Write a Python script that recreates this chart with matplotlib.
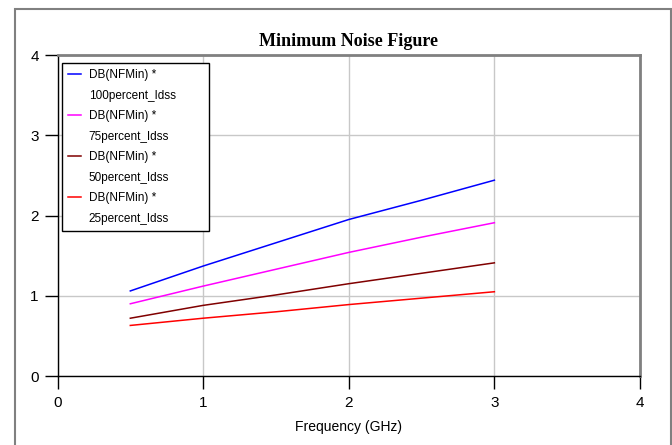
import matplotlib
matplotlib.use("Agg")
import matplotlib.pyplot as plt
from matplotlib.patches import Rectangle
from matplotlib.lines import Line2D

freq = [0.5, 1.0, 1.5, 2.0, 2.5, 3.0]
nf_100 = [1.06, 1.37, 1.66, 1.95, 2.19, 2.44]
nf_75 = [0.90, 1.12, 1.33, 1.54, 1.73, 1.91]
nf_50 = [0.72, 0.88, 1.01, 1.15, 1.28, 1.41]
nf_25 = [0.63, 0.72, 0.80, 0.89, 0.97, 1.05]

series = [
    (nf_100, "#0000ff", "100percent_Idss"),
    (nf_75, "#ff00ff", "75percent_Idss"),
    (nf_50, "#800000", "50percent_Idss"),
    (nf_25, "#ff0000", "25percent_Idss"),
]

plt.rcParams["font.family"] = ["Liberation Sans", "DejaVu Sans"]

W, H = 672, 445
fig = plt.figure(figsize=(W / 100, H / 100), dpi=100)

# outer frame (bottom edge runs off the picture)
fig.patches.append(Rectangle((14.5 / W, -0.05), (671 - 14.5) / W, 1.05 - 9 / H,
                             transform=fig.transFigure, fill=False,
                             edgecolor="#808080", linewidth=1.5))

left, right, top, bottom = 57.5, 640, 55, 376
ax = fig.add_axes([left / W, 1 - bottom / H, (right - left) / W, (bottom - top) / H])

for vals, col, name in series:
    ax.plot(freq, vals, color=col, linewidth=1.1)

ax.set_xlim(0, 4)
ax.set_ylim(0, 4)
ax.set_xticks([0, 1, 2, 3, 4])
ax.set_yticks([0, 1, 2, 3, 4])
ax.grid(True, color="#c8c8c8", linewidth=1)
ax.set_axisbelow(True)
ax.tick_params(direction="out", length=9.5, width=1, labelsize=11, pad=4, color="black")
ax.tick_params(axis="x", pad=5)

for s in ("left", "bottom"):
    ax.spines[s].set_color("black")
    ax.spines[s].set_linewidth(1)
for s in ("top", "right"):
    ax.spines[s].set_color("#808080")
    ax.spines[s].set_linewidth(2)

ax.set_xlabel("Frequency (GHz)", fontsize=10, labelpad=7)
ax.set_title("Minimum Noise Figure", fontsize=13, fontweight="bold",
             family="Liberation Serif", pad=6.5)

handles, labels = [], []
for vals, col, name in series:
    handles.append(Line2D([], [], color=col, linewidth=1.1))
    labels.append("DB(NFMin) *")
    handles.append(Line2D([], [], color="none"))
    labels.append(name)

# legend box spans x 62..209, top at y 63 (pixels)
lx0 = (62 - left) / (right - left)
lw = (209 - 62) / (right - left)
ly1 = (bottom - 63) / (bottom - top)
leg = ax.legend(handles, labels, loc="upper left", mode="expand",
                bbox_to_anchor=(lx0, ly1 - 0.6, lw, 0.6),
                borderaxespad=0, fancybox=False, framealpha=1, edgecolor="black",
                prop={"size": 8.5},
                handlelength=1.1, handletextpad=0.6, labelspacing=0.72,
                borderpad=0.55)
leg.get_frame().set_linewidth(1)

fig.savefig("out.png", dpi=100)
